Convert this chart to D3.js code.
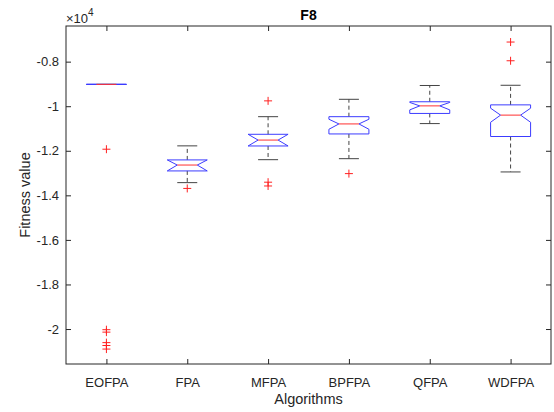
<!DOCTYPE html>
<html>
<head>
<meta charset="utf-8">
<script src="https://cdn.jsdelivr.net/npm/d3@7"></script>
<style>
  body { margin: 0; background: #fff; }
  text { font-family: "Liberation Sans", Arial, sans-serif; fill: #262626; }
</style>
</head>
<body>
<svg id="chart"></svg>
<script>
// box stats (raw values, axis shows them x10^4)
var algorithms = ["EOFPA", "FPA", "MFPA", "BPFPA", "QFPA", "WDFPA"];
var whiskerHigh = [-9020, -11780, -10470, -9690, -9070, -9060];
var q3 = [-9020, -12410, -11260, -10470, -9800, -9940];
var medians = [-9020, -12640, -11520, -10795, -9985, -10400];
var q1 = [-9020, -12905, -11785, -11245, -10325, -11360];
var whiskerLow = [-9020, -13430, -12400, -12355, -10780, -12950];
var notchHigh = [-9020, -12410, -11260, -10585, -9830, -10090];
var notchLow = [-9020, -12905, -11785, -11035, -10165, -10720];
var outliers = [
    [-11930, -20030, -20140, -20610, -20740, -20900],
    [-13690],
    [-9760, -13410, -13580],
    [-13025],
    [],
    [-7120, -7960]
];
var yTicks = [-8000, -10000, -12000, -14000, -16000, -18000, -20000];

var width = 554;
var height = 412;
// note: "top" is a reserved window property, so use plot* names
var plotLeft = 66, plotRight = 551, plotTop = 26, plotBottom = 364;
var boxW = 40;

var svg = d3.select("#chart")
    .attr("width", width)
    .attr("height", height);

var xScale = d3.scalePoint()
    .domain(algorithms)
    .range([plotLeft, plotRight])
    .padding(0.5);

var yScale = d3.scaleLinear()
    .domain([-21570, -6400])
    .range([plotBottom, plotTop]);

var data = algorithms.map(function(name, i){
    return {
        name: name,
        wh: whiskerHigh[i], q3: q3[i], med: medians[i], q1: q1[i], wl: whiskerLow[i],
        nh: notchHigh[i], nl: notchLow[i], out: outliers[i]
    };
});

// axes, ticks pointing inward like matlab
var axisColor = "#262626";

var yAxis = d3.axisLeft(yScale)
    .tickValues(yTicks)
    .tickSize(-5)
    .tickSizeOuter(0)
    .tickPadding(7)
    .tickFormat(d => String(+(d / 1e4).toFixed(1)));

var xAxis = d3.axisBottom(xScale)
    .tickSize(-5)
    .tickSizeOuter(0)
    .tickPadding(14);

svg.append("g")
    .attr("transform", `translate(${plotLeft}, 0)`)
    .call(yAxis);

svg.append("g")
    .attr("transform", `translate(0, ${plotBottom})`)
    .call(xAxis);

// mirror ticks on top and right
svg.append("g")
    .attr("transform", `translate(${plotRight}, 0)`)
    .call(d3.axisRight(yScale).tickValues(yTicks).tickSize(-5).tickSizeOuter(0).tickFormat(""));

svg.append("g")
    .attr("transform", `translate(0, ${plotTop})`)
    .call(d3.axisTop(xScale).tickSize(-5).tickSizeOuter(0).tickFormat(""));

svg.selectAll(".domain").remove();
svg.selectAll(".tick line").attr("stroke", axisColor);
svg.selectAll(".tick text")
    .style("font-size", "13px")
    .style("font-family", "'Liberation Sans', Arial, sans-serif")
    .attr("fill", axisColor);

svg.append("rect")
    .attr("x", plotLeft)
    .attr("y", plotTop)
    .attr("width", plotRight - plotLeft)
    .attr("height", plotBottom - plotTop)
    .attr("fill", "none")
    .attr("stroke", axisColor)
    .attr("stroke-width", 1);

// boxes
var g = svg.selectAll(".box")
    .data(data)
    .enter()
    .append("g")
    .attr("class", "box");

// whiskers
g.append("line")
    .attr("x1", d => xScale(d.name)).attr("x2", d => xScale(d.name))
    .attr("y1", d => yScale(d.q3)).attr("y2", d => yScale(d.wh))
    .attr("stroke", "#444").attr("stroke-dasharray", "4,3");

g.append("line")
    .attr("x1", d => xScale(d.name)).attr("x2", d => xScale(d.name))
    .attr("y1", d => yScale(d.q1)).attr("y2", d => yScale(d.wl))
    .attr("stroke", "#444").attr("stroke-dasharray", "4,3");

g.append("line")
    .attr("x1", d => xScale(d.name) - boxW / 4).attr("x2", d => xScale(d.name) + boxW / 4)
    .attr("y1", d => yScale(d.wh)).attr("y2", d => yScale(d.wh))
    .attr("stroke", "#444");

g.append("line")
    .attr("x1", d => xScale(d.name) - boxW / 4).attr("x2", d => xScale(d.name) + boxW / 4)
    .attr("y1", d => yScale(d.wl)).attr("y2", d => yScale(d.wl))
    .attr("stroke", "#444");

// notched box outline
g.append("path")
    .attr("d", function(d){
        var x = xScale(d.name);
        var a = x - boxW / 2, b = x + boxW / 2;
        var ia = x - boxW / 4, ib = x + boxW / 4;
        var pts = [
            [a, yScale(d.q3)], [b, yScale(d.q3)], [b, yScale(d.nh)],
            [ib, yScale(d.med)], [b, yScale(d.nl)], [b, yScale(d.q1)],
            [a, yScale(d.q1)], [a, yScale(d.nl)], [ia, yScale(d.med)],
            [a, yScale(d.nh)]
        ];
        return d3.line()(pts) + "Z";
    })
    .attr("fill", "none")
    .attr("stroke", "#3c3cff")
    .attr("stroke-width", 1);

// median
g.append("line")
    .attr("x1", d => xScale(d.name) - boxW / 4).attr("x2", d => xScale(d.name) + boxW / 4)
    .attr("y1", d => yScale(d.med)).attr("y2", d => yScale(d.med))
    .attr("stroke", "#ff3030");

// outliers as red +
g.selectAll(".out")
    .data(d => d.out.map(v => ({ name: d.name, v: v })))
    .enter()
    .append("path")
    .attr("d", function(o){
        var x = xScale(o.name), y = yScale(o.v);
        return `M${x - 4},${y}H${x + 4}M${x},${y - 4}V${y + 4}`;
    })
    .attr("stroke", "#ff2020")
    .attr("fill", "none");

// labels
svg.append("text")
    .attr("x", (plotLeft + plotRight) / 2)
    .attr("y", 19.5)
    .attr("text-anchor", "middle")
    .style("font-size", "14px")
    .style("font-weight", "bold")
    .style("fill", "#000")
    .text("F8");

var expo = svg.append("text")
    .attr("x", plotLeft)
    .attr("y", 23.3)
    .style("font-size", "13px")
    .style("fill", axisColor);
expo.append("tspan").text("\u00d710");
expo.append("tspan").attr("dy", -7).style("font-size", "10px").text("4");

svg.append("text")
    .attr("x", (plotLeft + plotRight) / 2)
    .attr("y", 404)
    .attr("text-anchor", "middle")
    .style("font-size", "14.5px")
    .text("Algorithms");

svg.append("text")
    .attr("transform", "rotate(-90)")
    .attr("x", -(plotTop + plotBottom) / 2)
    .attr("y", 30)
    .attr("text-anchor", "middle")
    .style("font-size", "14.5px")
    .text("Fitness value");
</script>
</body>
</html>
